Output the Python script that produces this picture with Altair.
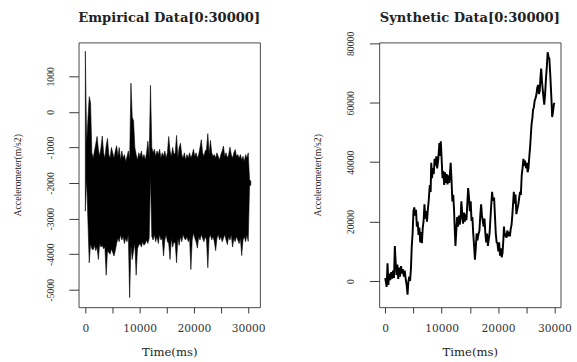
import altair as alt
import pandas as pd

# ---------------- Empirical data (upper / lower envelope of the dense signal) -------------
EMP_STEP = 240  # ms between sampled columns
emp_upper = [1710, -880, -200, 430, 260, -1150, -1300, -1100, -900, -690,
             -1050, -1250, -1000, -680, -1150, -1300, -950, -745, -1200, -1300,
             -1000, -1150, -1300, -1100, -950, -1250, -1000, -1350, -1100, -1300,
             -1200, -1400, -1250, -1100, -1350, 810, -150, -250, -1000, -1200,
             -1350, -1150, -1250, -1100, -1300, -1200, -1350, -1150, -820, -1300,
             750, -1000, -1150, -1050, -1250, -1100, -1200, -1050, -1300, -1150,
             -1250, -1100, -1300, -1150, -690, -1100, -1250, -1000, -1200, -1150,
             -660, -1300, -1000, -880, -1200, -1300, -1150, -1350, -1200, -1300,
             -1150, -1300, -1200, -1050, -1250, -1150, -1300, -1200, -1000, -780,
             -1150, -1250, -1100, -1050, -610, -1200, -800, -1150, -1250, -1200,
             -1300, -1150, -1250, -1350, -1200, -1100, -960, -1250, -1150, -1300,
             -1200, -990, -1200, -1300, -1150, -1060, -1250, -1200, -1300, -1200,
             -1350, -1250, -1400, -1200, -1300, -1150, -1900, -1950]
emp_lower = [-2790, -1850, -3090, -4240, -3700, -3850, -3880, -3750, -3900, -3800,
             -4150, -3700, -3800, -3750, -3850, -3800, -4590, -3900, -3950, -4000,
             -3850, -3950, -4050, -3900, -3700, -3550, -3650, -3450, -3600, -3500,
             -3700, -3550, -3650, -3450, -5220, -3750, -4150, -3900, -3700, -4590,
             -3850, -3750, -3700, -3800, -3650, -3750, -3700, -3600, -3700, -3550,
             -1780, -3500, -3600, -3450, -3650, -3500, -3700, -3450, -3600, -3550,
             -4050, -3600, -3450, -3650, -3700, -4150, -3550, -3800, -3650, -3700,
             -4240, -3550, -3750, -3500, -3650, -3450, -3550, -3600, -3500, -3650,
             -3550, -4430, -3600, -3400, -3550, -3650, -3830, -3500, -3600, -3450,
             -3550, -3650, -3500, -3600, -4380, -3550, -3450, -3600, -3500, -3650,
             -3900, -3550, -3450, -3600, -3500, -3650, -3550, -3450, -3600, -3730,
             -3500, -3600, -3450, -3800, -3550, -3650, -3500, -3600, -3700, -3550,
             -4040, -3600, -3500, -3650, -3450, -3640, -2100, -2050]

# ---------------- Synthetic data (random-walk like series) -------------
syn_time = [0, 250, 400, 550, 700, 900, 1050, 1200, 1400, 1550, 1700, 1850, 2000, 2150, 2300,
            2450, 2600, 2800, 2950, 3100, 3300, 3450, 3600, 3800, 3950, 4100, 4250, 4400, 4550,
            4700, 4850, 5000, 5150, 5300, 5450, 5600, 5750, 5900, 6050, 6200, 6350, 6500, 6650,
            6800, 6950, 7100, 7250, 7400, 7550, 7700, 7900, 8050, 8150, 8300, 8450, 8600, 8750,
            8900, 9050, 9200, 9400, 9600, 9750, 9850, 10000, 10150, 10300, 10450, 10600, 10750,
            10900, 11050, 11200, 11350, 11500, 11600, 11750, 11900, 12050, 12200, 12350, 12450,
            12600, 12750, 12900, 13050, 13200, 13350, 13500, 13650, 13800, 13950, 14100, 14250,
            14400, 14550, 14700, 14850, 15000, 15150, 15300, 15450, 15600, 15750, 15900, 16050,
            16200, 16350, 16500, 16700, 16850, 17000, 17150, 17300, 17450, 17600, 17750, 17900,
            18050, 18200, 18350, 18500, 18650, 18800, 18950, 19100, 19300, 19450, 19600, 19750,
            19900, 20050, 20200, 20350, 20500, 20650, 20800, 20950, 21050, 21200, 21350, 21500,
            21650, 21800, 21950, 22100, 22250, 22400, 22550, 22700, 22800, 22950, 23100, 23250,
            23400, 23600, 23750, 23900, 24050, 24200, 24350, 24500, 24650, 24800, 24950, 25100,
            25250, 25400, 25550, 25700, 25850, 25950, 26100, 26200, 26350, 26500, 26650, 26800,
            26950, 27100, 27250, 27400, 27500, 27650, 27800, 27900, 28050, 28200, 28350, 28500,
            28650, 28800, 28950, 29100, 29250, 29400, 29500, 29600, 29750, 29900, 30000]
syn_value = [1000, -2000, 6000, -1300, 2500, 300, 3000, 800, 3500, 1000, 11800, 6000, 2000, 5500, 700,
             4500, 1500, 5000, 2500, 4000, 1500, 3500, 1000, -1500, -4600, -300, 1500, 0, 4000,
             11800, 16000, 23500, 24800, 22000, 24000, 18300, 20000, 15500, 18000, 13000, 16500, 12700, 18000,
             20200, 25800, 21000, 23500, 20000, 24000, 27000, 32300, 30000, 39800, 34600, 38000, 36000, 41100,
             38800, 42000, 37900, 41000, 46400, 42100, 47000, 41000, 34600, 37000, 32300, 36600, 33000,
             36000, 32500, 35600, 33000, 37000, 39800, 34000, 26800, 29000, 24000, 16000, 11800,
             17000, 21500, 18300, 22000, 19000, 21000, 26800, 22500, 19300, 23000, 20000, 22500,
             20500, 26000, 31300, 28100, 23500, 26800, 20200, 21500, 16000, 12000, 7200, 11000,
             16000, 13700, 15500, 17000, 22000, 25800, 22000, 20200, 18300, 21000, 16000, 13000,
             16000, 11800, 14000, 16000, 21000, 25800, 30000, 27000, 28100, 22000, 16000, 13000,
             12700, 10000, 13000, 8500, 11000, 8000, 9500, 14000, 18300, 15000, 16000, 14500,
             17000, 15000, 16500, 15000, 17500, 19000, 22500, 27000, 30000, 26000, 29100, 22500,
             24000, 25800, 28000, 30000, 29000, 35600, 38000, 41100, 38800, 40500, 38000, 39800,
             36600, 38000, 42000, 45400, 50000, 52900, 55000, 57500, 58500, 60700, 61500, 62700,
             65000, 66000, 63000, 64000, 68000, 71500, 67000, 65000, 62000, 59400, 63000, 68200,
             72000, 77000, 75500, 74800, 70000, 64000, 60000, 55200, 57000, 59400, 60000]

x_ticks = [0, 5000, 10000, 15000, 20000, 25000, 30000]
emp_y_ticks = [-5000, -4000, -3000, -2000, -1000, 0, 1000]
syn_y_ticks = [0, 20000, 40000, 60000, 80000]

emp_df = pd.DataFrame({
    "t": [i * EMP_STEP for i in range(len(emp_upper))],
    "hi": emp_upper,
    "lo": emp_lower,
})
syn_df = pd.DataFrame({"t": syn_time, "v": syn_value, "k": list(range(len(syn_time)))})

SERIF = "Liberation Serif"
WIDE = "DejaVu Serif"
INK = "#333333"


def x_axis():
    return alt.Axis(values=x_ticks,
                    labelExpr="datum.value % 10000 == 0 ? format(datum.value, 'd') : ''",
                    title="Time(ms)", grid=False, domain=False, tickSize=6, tickColor=INK,
                    labelFont=WIDE, labelFontSize=11, labelColor=INK, labelPadding=10,
                    labelFlush=False, labelOverlap=False,
                    titleFont=WIDE, titleFontSize=12, titleFontWeight="normal",
                    titleColor="#222222", titlePadding=14)


def y_axis(vals):
    return alt.Axis(values=vals,
                    labelExpr="datum.value < 0 ? '-' + format(-datum.value, 'd') : format(datum.value, 'd')",
                    title="Accelerometer(m/s2)", grid=False, domain=False, tickSize=10,
                    tickColor=INK, labelAngle=270, labelAlign="center", labelBaseline="bottom",
                    labelFont=SERIF, labelFontSize=10, labelColor=INK, labelPadding=14,
                    labelFlush=False, labelOverlap=False,
                    titleFont=SERIF, titleFontSize=10, titleFontWeight="normal",
                    titleColor="#222222", titlePadding=24)


def title(text, dy=0):
    return alt.TitleParams(text, font=WIDE, fontSize=13.5, fontWeight="bold", color="#222222",
                           anchor="middle", frame="group", offset=19, dy=dy)


left = alt.Chart(emp_df).mark_area(color="black", stroke="black", strokeWidth=0.6,
                                   clip=True).encode(
    x=alt.X("t:Q", scale=alt.Scale(domain=[-1250, 32150], nice=False, zero=False), axis=x_axis()),
    y=alt.Y("hi:Q", scale=alt.Scale(domain=[-5490, 1954], nice=False, zero=False),
            axis=y_axis(emp_y_ticks)),
    y2="lo:Q",
).properties(width=187, height=273, title=title("Empirical Data[0:30000]"))

right = alt.Chart(syn_df).mark_line(color="black", strokeWidth=2, clip=True).encode(
    x=alt.X("t:Q", scale=alt.Scale(domain=[-1080, 31080], nice=False, zero=False), axis=x_axis()),
    y=alt.Y("v:Q", scale=alt.Scale(domain=[-8815, 80320], nice=False, zero=False),
            axis=y_axis(syn_y_ticks)),
    order="k:Q",
).properties(width=187, height=273, title=title("Synthetic Data[0:30000]", dy=12))

chart = alt.hconcat(left, right, spacing=48).properties(
    padding={"left": 12, "top": 5, "right": 5, "bottom": 5},
    background="white",
).configure_view(stroke="#444444", strokeWidth=1)

chart.save("out.html", embed_options={"renderer": "svg", "actions": False})
